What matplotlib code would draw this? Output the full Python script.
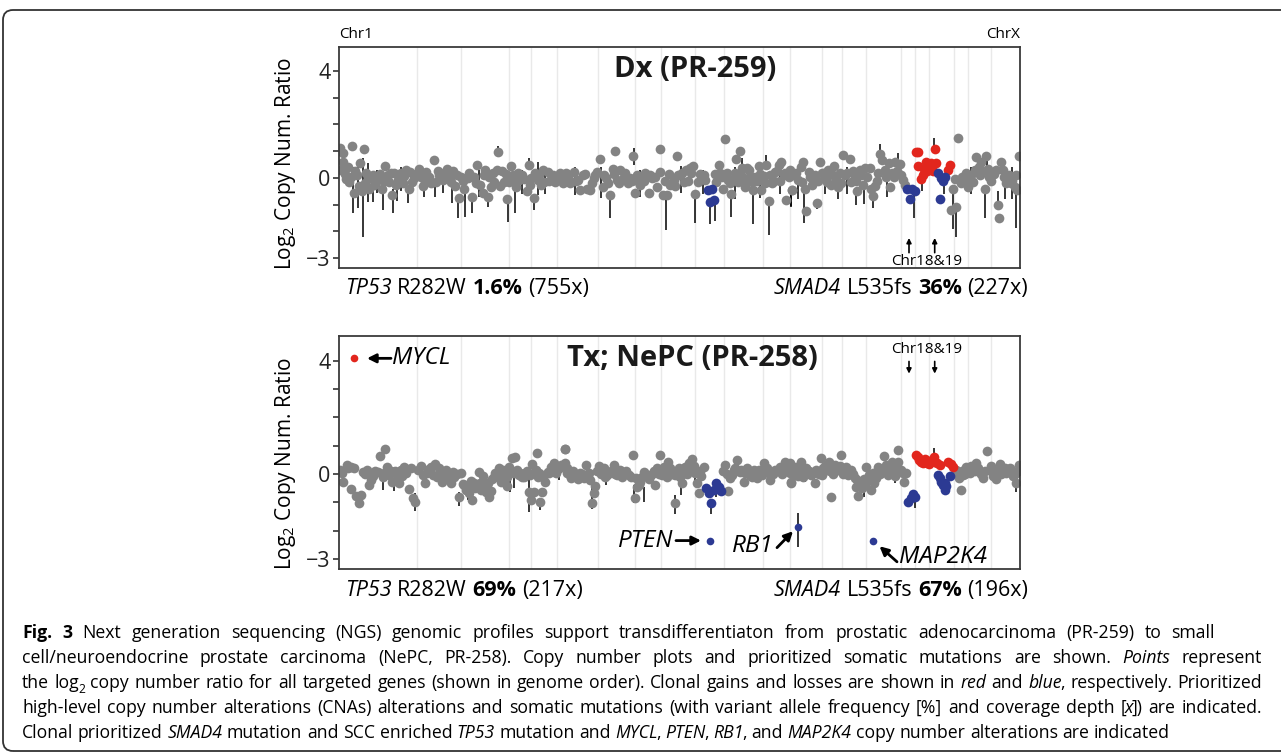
import matplotlib
matplotlib.use('Agg')
import matplotlib.pyplot as plt
from matplotlib.transforms import IdentityTransform
from matplotlib.patches import FancyBboxPatch

plt.rcParams['font.family'] = ['Open Sans', 'DejaVu Sans']
plt.rcParams['mathtext.fontset'] = 'custom'
plt.rcParams['mathtext.rm'] = 'Open Sans'
plt.rcParams['mathtext.it'] = 'Open Sans:italic'
plt.rcParams['mathtext.bf'] = 'Open Sans:bold'

# ---- data (x = genome order position, y = log2 copy number ratio) ----
# chromosome boundaries along the genome axis
chrom_bounds = [77.7, 122.3, 170.3, 192.3, 218.3, 258.7, 295.7, 322, 355.5, 385.3,
                423.5, 451, 483.3, 503, 527, 561.7, 576.3, 590.2, 614.5, 629, 651.5]

# Dx (PR-259): gray = neutral, red = gain, blue = loss
dx_gray = [
    (1, 1.1), (4.3, 0.92), (3.7, 0.58), (8.7, 0.42), (13, 1.2), (6.3, 0.15), (10.3, -0.17),
    (15.3, -0.58), (16.3, 0.26), (19.7, -0.3), (21.3, 0.54), (23, -0.48), (24.7, 1.08),
    (27, 0.17), (30.3, -0.4), (32, 0), (34.3, 0.1), (37, -0.14), (39.7, 0.05), (43, -0.43),
    (46.3, 0.45), (48.7, 0.1), (50.3, -0.14), (53, -0.64), (55.3, 0.17), (58.7, -0.08),
    (62, 0.2), (65.3, 0.07), (69.7, -0.43), (71, 0.23), (75.3, 0), (80.3, 0.32), (84.3, -0.3),
    (87, 0.23), (90.3, 0.05), (94.7, 0.67), (97, -0.14), (100.3, 0.1), (103.7, -0.08),
    (108, 0.33), (110.3, 0), (114.3, 0.26), (116.3, -0.3), (119.7, -0.77), (122, 0.05),
    (125.3, -0.4), (128.7, 0), (133, -0.73), (135.3, 0.05), (138, 0.48), (141, -0.27),
    (143.7, -0.58), (146, 0.3), (148.7, -0.7), (152, -0.35), (155.3, -0.14), (159.3, 0.96),
    (158, 0.3), (162.7, 0.27), (165.3, -0.14), (168, -0.8), (172, 0.45), (173.7, 0.1),
    (177, -0.33), (180.3, -0.08), (185.3, -0.05), (187.7, -0.48), (189.7, 0.48), (192, 0),
    (194.7, -0.77), (198.7, -0.08), (202, -0.27), (205.3, -0.14), (208.7, 0.23), (213.7, 0.1),
    (218.7, 0.05), (223.7, -0.2), (227, 0.17),
    (2, 0.3), (7, -0.05), (12, 0.05), (18, 0.1), (26, -0.2), (29, 0.05), (35, -0.25), (41, 0.15),
    (45, -0.1), (52, 0.2), (57, -0.25), (60, 0.05), (64, -0.2), (67, 0.3), (73, -0.15), (77, 0.15),
    (82, 0.05), (86, -0.1), (92, -0.2), (99, 0.25), (105, 0.2), (112, -0.15), (118, 0.1),
    (124, -0.1), (130, 0.2), (137, -0.2), (145, 0.1), (150, 0.05), (154, 0.2), (161, -0.3),
    (167, 0.15), (170, -0.15), (175, -0.1), (179, 0.2), (183, 0.1), (191, -0.25), (196, 0.2),
    (200, 0.1), (204, 0.3), (210, -0.1), (216, -0.15), (221, 0.2),
    (226.3, 0.1), (231.3, -0.18), (234.7, 0.23), (239, -0.08), (241.3, -0.45), (243.7, 0.1),
    (248, -0.4), (251.3, -0.45), (254.7, 0), (258, 0.23), (261.3, 0.7), (263.7, -0.33), (267, 0),
    (271.3, -0.64), (273.7, 0.33), (276.3, 1.02), (278, -0.08), (281.3, 0.3), (284.7, 0.05),
    (289, -0.2), (291.3, 0), (294.3, 0.83), (296.3, -0.58), (299.7, -0.14), (303, 0),
    (306.3, 0.2), (309.7, -0.58), (313, 0), (318, -0.33), (320.7, 1.08), (321.3, 0.23),
    (324, -0.64), (328, -0.64), (331.3, -0.27), (334.7, -0.08), (337.7, 0.8), (341.3, 0.1),
    (344.7, -0.14), (347, 0.3), (350.7, 0.36), (354, 0.46), (356.3, -0.62), (359, -0.14),
    (363, 0), (366.3, -0.08), (377, -0.14), (379.7, 0.5), (381.3, 0.17), (384, -0.4),
    (386.3, 1.45), (389, -0.08), (392.3, -0.62), (394.7, -0.05), (397.3, 0.7), (400.7, 1.0),
    (403, 0.36), (405.7, -0.33), (408, 0.36), (411.3, 0.07), (414, -0.45), (416.3, 0.05),
    (419.7, 0.46), (422.3, -0.45), (424.7, 0.07), (427.3, 0.48), (429.7, -0.87), (433, -0.2),
    (436.3, 0.23), (439.7, 0.48), (442.3, 0.58), (444.7, 0.1), (447.3, -0.83), (449.7, 0.05),
    (453, -0.45),
    (229, 0.05), (237, -0.1), (246, 0.15), (253, -0.2), (256, 0.1), (265, 0.1), (269, -0.2),
    (275, 0.15), (280, -0.2), (286, 0.2), (293, -0.1), (298, 0.1), (301, -0.25), (305, -0.1),
    (311, 0.1), (316, 0.05), (326, -0.1), (330, 0.15), (336, -0.3), (339, 0.1), (343, 0.2),
    (349, -0.1), (352, 0.2), (361, 0.15), (365, 0.1), (376, 0.15), (383, 0.05), (388, 0.2),
    (391, -0.2), (396, 0.2), (399, -0.15), (402, 0.1), (407, -0.1), (410, 0.3), (413, -0.15),
    (418, -0.1), (421, 0.15), (426, -0.2), (431, 0.1), (435, -0.1), (438, 0.25), (441, -0.1),
    (446, 0.2), (451, 0.2),
    (450.7, 0.3), (454, 0.1), (453, -0.45), (459, -0.08), (461.7, 0.42), (464, 0.6),
    (465.7, -0.43), (467.3, -1.23), (469.7, 0.23), (473, -0.27), (475.7, 0.1), (477.7, -0.93),
    (481, 0.6), (483, 0.17), (486.3, 0), (489, 0.3), (492.3, -0.27), (495, 0.45), (499, -0.33),
    (500.7, 0.17), (504, 0.86), (506.3, 0.1), (510.7, 0.7), (512.3, -0.14), (515.7, 0.05),
    (518.3, -0.48), (520.7, 0.3), (524, -0.27), (526.3, 0.36), (530.7, 0.36), (532.3, -0.4),
    (534, -0.68), (536.3, -0.3), (539, 0.17), (541.3, 0.9), (543, 0.67), (545.7, 0.3),
    (550, 0.55), (551, -0.35), (555, 0.02), (556.3, 0.6), (560.7, 0.52), (564, -0.08),
    (614, -0.43), (612.3, -1.2), (615.7, -0.04), (617.3, -1.08), (619, 1.48), (621.7, -0.2),
    (625.7, -0.08), (629, -0.35), (631.7, 0.1), (637.3, 0.77), (639.7, 0.42), (642.3, 0.6),
    (645.7, -0.43), (647.3, 0.83), (650, 0.05), (653, 0.17), (657.3, 0.3), (659, -1.02),
    (660.3, -1.52), (662.3, 0.6), (665, 0.05), (668.3, -0.08), (671.7, -0.2), (675.7, -0.35),
    (678.3, -0.45), (680, 0.83),
    (457, 0.2), (463, -0.15), (471, 0.05), (479, -0.1), (485, 0.2), (488, -0.15), (494, 0.1),
    (497, -0.05), (502, -0.2), (508, 0.2), (514, 0.25), (517, -0.1), (522, 0.1), (528, 0.05),
    (538, -0.1), (547, 0.05), (553, 0.2), (558, 0.25), (562, 0.1), (566, -0.25), (623, 0.05),
    (627, 0.2), (634, -0.15), (636, 0.3), (641, 0.1), (644, 0.25), (649, 0.35), (652, -0.1),
    (655, 0.15), (664, 0.3), (667, -0.2), (670, 0.1), (673, -0.1), (677, 0.1),
]
dx_red = [(576.7, 0.95), (579, 0.98), (579, 0.46), (582.3, -0.05), (584, 0.1), (586.7, 0.6),
          (588.3, 0.27), (590.7, 0.42), (592.3, 0.57), (595.7, 1.08), (597.3, 0.55),
          (585, 0.35), (594, 0.25), (609, 0.3), (610.7, 0.48)]
dx_blue = [(369, -0.45), (373, -0.4), (371.3, -0.9), (374.7, -0.83),
           (568.3, -0.43), (570.7, -0.8), (573, -0.43), (575.7, -0.48),
           (599, 0.17), (600.7, -0.8), (602.3, 0), (604, -0.12), (606.3, 0.05)]
# error bars (x, low, high)
dx_bars = [
    (14.3, -1.33, 0.42), (19, -1.14, 0.42), (23.7, -2.2, 0.73), (28.7, -0.9, 0.55),
    (33.7, -0.9, -0.2), (44.3, -1.2, -0.45), (53.7, -1.3, -0.4), (58, -0.85, -0.3),
    (68.7, -0.95, -0.43), (96, -0.7, -0.2), (113, -0.95, -0.3), (119.3, -1.52, -0.77),
    (126.3, -1.48, -0.4), (133, -1.33, -0.73), (148.7, -1.08, -0.7), (159.3, 0.96, 1.2),
    (168.7, -1.64, -0.8), (176.3, -1.33, -0.33), (194.7, -1.2, -0.77), (198.7, -0.64, 0.6),
    (189.7, 0.48, 0.75), (271.3, -1.52, -0.64), (294.7, 0.48, 1.1), (327.3, -1.95, -0.64),
    (355.7, -1.68, -0.62), (371.3, -1.73, -0.9), (375.7, -1.6, -0.83), (392.3, -1.48, -0.62),
    (414, -1.73, -0.45), (429.7, -2.14, -0.87), (452, -1.08, -0.45), (427.3, 0.48, 0.85),
    (403, 0.36, 0.75), (452.3, -1.05, -0.45), (459, -0.8, -0.08), (465, -1.7, -0.43),
    (477.7, -1.15, -0.93), (499, -0.8, -0.33), (517.3, -1.02, -0.48), (525, -0.98, -0.27),
    (534, -1.14, -0.68), (541.3, 0.9, 1.25), (559, 0.3, 0.92), (575, -1.52, -0.48),
    (583, -0.5, -0.05), (595, 1.08, 1.48), (605, -0.6, -0.12), (614, -1.9, -0.43),
    (617.3, -2.2, -1.08), (645.7, -1.52, -0.43), (659, -1.0, -0.5), (677.3, -1.89, -0.35),
    (673, -0.8, 0.4), (648, 0.2, 0.9),
    (38, -0.55, 0.3), (62, -0.5, 0.4), (85, -0.7, 0.2), (104, -0.55, 0.3), (140, -0.7, 0.3),
    (183, -0.6, 0.3), (206, -0.6, 0.35), (236, -0.65, 0.4), (262, -0.75, 0.4), (301, -0.7, 0.3),
    (342, -0.55, 0.45), (364, -0.6, 0.3), (396, -0.8, 0.4), (421, -0.75, 0.2), (441, -0.6, 0.5),
    (486, -0.6, 0.35), (508, -0.6, 0.4), (548, -0.7, 0.3), (632, -0.6, 0.4), (666, -0.8, 0.3),
]

# Tx; NePC (PR-258)
tx_gray = [
    (1, 0.14), (4.3, -0.27), (7.7, 0.32), (12, 0.26), (12, -0.54), (17, -0.77), (20.3, -1.03),
    (22, -0.74), (23.7, 0.09), (27.7, 0.14), (30.3, -0.38), (34.3, -0.07), (38.7, 0.09),
    (41.3, 0.64), (46.3, 0.9), (43.7, -0.09), (48, 0.26), (50.3, -0.03), (53, -0.27),
    (56.3, 0.12), (60.3, -0.33), (63, -0.07), (65.3, 0.26), (69.7, -0.54), (72, 0.2),
    (74.3, -0.86), (76.3, -0.97), (82, 0.29), (84.3, -0.03), (86.3, -0.33), (90.3, 0.17),
    (93.7, -0.03), (96.3, 0.36), (100.3, 0.2), (103, -0.27), (105.3, 0.09), (108.7, -0.15),
    (112, -0.33), (113.7, 0.09), (117.7, 0), (119.7, -0.82), (122, 0.03), (123.7, -0.35),
    (127, -0.56), (129.7, -0.66), (132, -0.23), (133, -0.92), (136.3, -0.5), (139.7, 0.09),
    (142, -0.56), (144.3, -0.07), (147, -0.62), (150.3, -0.82), (153, -0.18), (156.3, 0.05),
    (159.7, 0.2), (162, -0.27), (165.3, -0.03), (167.7, -0.42), (169.7, 0.24), (173, 0.56),
    (176.3, 0.59), (175.3, 0.03), (179.7, -0.03), (183, -0.09), (186.3, 0.05), (189.7, -0.62),
    (192, -0.92), (193, 0.36), (195.3, -0.62), (198, 0.73), (198.7, -0.11), (201.3, -0.97),
    (203, -0.62), (206.3, -0.27), (208.7, 0.09), (212, 0.26), (215.3, 0.4), (218.7, 0.17),
    (222, 0.32), (225.7, 0.88), (228, 0.05),
    (3, 0.05), (9, 0.2), (15, 0.2), (26, 0.0), (32, -0.2), (36, 0.1), (45, 0.05), (52, 0.1),
    (58, -0.05), (62, 0.15), (67, 0.05), (79, 0.15), (88, 0.05), (92, 0.25), (98, -0.1),
    (102, 0.0), (107, 0.15), (110, 0.05), (115, -0.1), (125, -0.4), (131, -0.45), (135, -0.3),
    (138, -0.4), (141, -0.3), (146, -0.4), (149, -0.3), (152, -0.6), (155, -0.1), (158, -0.05),
    (161, 0.1), (164, 0.15), (168, -0.1), (171, 0.05), (178, 0.15), (181, 0.05), (185, -0.1),
    (188, 0.1), (191, -0.05), (197, 0.15), (200, 0.05), (205, -0.05), (210, 0.05), (214, 0.2),
    (217, 0.05), (220, 0.2), (224, 0.3),
    (226.3, 0.88), (225.7, 0.38), (229, 0.09), (232.3, -0.15), (235.7, -0.03), (239, -0.18),
    (241.3, 0.05), (244.7, -0.15), (247, 0.32), (249.7, 0.03), (253, -1.01), (254.7, -0.68),
    (256.3, -0.42), (260.3, 0.29), (263, 0.12), (266.3, -0.11), (269.7, 0.03), (274.7, 0.32),
    (278, -0.03), (281.3, 0.14), (284.7, 0.03), (289.7, -0.03), (294.3, 0.68), (295.7, -0.86),
    (298, -0.44), (301.3, -0.27), (304.7, 0.09), (308, -0.07), (310.3, -0.18), (313.7, 0.05),
    (316.3, -0.38), (318, 0.2), (321, 0.66), (323, -0.03), (326.3, 0.09), (329, 0.44),
    (331.3, 0.2), (336.3, -1.01), (336.3, -0.03), (339.7, 0.2), (343, -0.3), (343.7, 0.17),
    (346.3, 0.26), (349.7, 0.38), (353, 0.52), (356.3, 0.03), (358, -0.3), (359.7, -0.68),
    (362.3, -0.07), (364.7, 0.26),
    (386.3, 0.32), (389, -0.59), (391.3, -0.15), (394.7, 0.14), (398, 0.5), (400.7, 0.09),
    (404.7, -0.27), (408, 0.2), (411.3, -0.03), (414.7, 0.14), (418, -0.15), (421.3, 0.03),
    (424.7, 0.4), (428, 0.2), (431.3, -0.21), (436.3, 0.14), (441.3, 0.26), (445.7, 0.44),
    (449, 0.2), (452.3, -0.3), (453, 0.05),
    (228, 0.2), (231, -0.05), (234, 0.1), (237, -0.1), (243, 0.0), (246, -0.05), (251, -0.2),
    (258, 0.1), (262, 0.0), (265, 0.2), (268, -0.05), (272, 0.1), (276, 0.0), (280, 0.05),
    (283, -0.1), (287, 0.1), (292, -0.1), (297, -0.15), (300, -0.4), (303, -0.1), (306, 0.0),
    (312, -0.05), (315, 0.1), (320, 0.0), (325, 0.25), (328, -0.1), (333, 0.0), (338, 0.05),
    (341, -0.1), (345, 0.05), (348, 0.0), (352, 0.2), (355, 0.3), (361, 0.1), (384, 0.1),
    (388, 0.0), (393, -0.05), (396, 0.2), (402, 0.15), (406, 0.05), (410, 0.1), (413, -0.1),
    (416, 0.05), (420, 0.15), (423, -0.05), (426, 0.1), (430, 0.05), (434, 0.0), (439, 0.1),
    (443, 0.0), (447, 0.1), (451, 0.05),
    (450.7, 0.38), (452.3, -0.27), (455.7, 0.14), (459, -0.07), (462.3, 0.44), (465, 0.09),
    (468.3, 0.03), (471.7, -0.03), (475.7, -0.33), (478.3, 0.03), (481.7, 0.56), (484, 0.2),
    (487.3, 0.14), (489.7, 0.44), (492.3, -0.82), (492.3, 0.26), (495.7, 0.32), (499, 0.14),
    (502.3, 0.68), (505.7, 0.14), (509, -0.03), (512.3, 0.14), (515.7, -0.15), (517.3, -0.44),
    (519, -0.77), (521.7, -0.33), (525, -0.18), (527.3, 0.26), (529.7, -0.03), (532.3, -0.56),
    (535, -0.33), (537.3, -0.15), (539, 0.26), (542.3, 0.17), (544.7, 0.64), (547.3, 0.32),
    (550.7, 0.2), (553, 0.44), (556.3, -0.07), (559, 0.85), (559, 0.44), (562.3, 0.14),
    (565, -0.27), (567.3, 0.03),
    (617.3, 0.14), (619.7, -0.15), (621.7, -0.56), (624, -0.03), (627.3, 0.26), (630.7, 0.03),
    (634, 0.17), (637.3, 0.38), (640.7, 0.09), (644, -0.15), (648.3, 0.82), (650.7, 0.14),
    (654, -0.07), (657.3, -0.18), (660.7, 0.36), (664, 0.14), (667.3, 0.03), (670.7, 0.2),
    (674, -0.07), (677.3, -0.3), (680, 0.32),
    (454, 0.0), (457, 0.25), (461, 0.1), (464, -0.1), (467, 0.2), (470, 0.1), (474, 0.05),
    (477, 0.15), (480, 0.0), (483, -0.05), (486, 0.3), (491, 0.1), (494, 0.0), (497, 0.2),
    (501, 0.3), (504, 0.0), (507, 0.25), (511, 0.05), (514, 0.0), (518, -0.2), (523, -0.5),
    (526, -0.4), (531, -0.2), (534, 0.05), (541, 0.0), (546, 0.1), (549, -0.05), (552, 0.3),
    (555, 0.1), (558, 0.2), (564, 0.05), (618, 0.0), (623, 0.1), (626, 0.0), (629, 0.2),
    (632, 0.3), (636, 0.1), (639, 0.2), (642, 0.0), (646, 0.1), (652, 0.3), (656, 0.05),
    (659, 0.15), (662, 0.0), (666, 0.2), (669, 0.1), (672, 0.15), (676, 0.0), (679, 0.1),
]
tx_red = [(577.3, 0.68), (580, 0.5), (582.3, 0.44), (585.7, 0.52), (588.3, 0.38), (591.7, 0.44),
          (595, 0.62), (596.3, 0.44), (600.7, 0.32), (609, 0.44), (612.3, 0.36), (614, 0.26),
          (579, 0.6), (584, 0.4), (587, 0.45), (590, 0.35), (593, 0.5), (598, 0.4)]
tx_blue = [(367, -0.5), (369.7, -0.68), (372.3, -1.03), (374.7, -0.56), (377, -0.33),
           (379.7, -0.44), (382.3, -0.59),
           (569, -0.97), (571.7, -0.86), (574, -0.7), (575.7, -0.8),
           (599, -0.03), (602.3, -0.27), (604, -0.38), (605.7, -0.56), (607.3, -0.42),
           (610.7, -0.07), (601, -0.15), (606, -0.3)]
tx_bars = [
    (21, -0.8, -0.65), (44.3, -0.58, -0.15), (55, -0.6, -0.2), (76.3, -1.29, -0.68),
    (119.7, -1.13, -0.62), (129, -0.92, -0.8), (162, -0.05, 0.2), (171, -0.62, -0.15),
    (174.7, -0.5, -0.09), (189.7, -1.33, -0.18), (201, -1.27, -0.97), (220, -0.2, 0.27),
    (253, -1.25, -0.15), (267, -0.38, -0.11), (295.3, -1.03, -0.38), (304.7, -1.0, -0.44),
    (336.3, -1.41, -0.74), (342.3, -0.74, -0.15), (356.3, -0.33, 0.38), (372.3, -1.42, -1.1),
    (377, -0.82, -0.58), (389.7, -0.68, -0.56), (453, -0.45, -0.2), (465.7, -0.27, -0.1),
    (492.3, -0.97, -0.82), (525, -0.82, -0.38), (532.3, -0.68, -0.56), (555.7, -0.33, -0.03),
    (569.7, -1.17, -0.97), (575.7, -1.21, -0.7), (595, 0.62, 0.91), (605.7, -0.74, -0.56),
    (677.3, -0.62, -0.3), (459, -2.59, -1.39),
]
# highlighted focal CNAs: (gene, x, y, call)
tx_focal = [('MYCL', 15.3, 4.09, 1), ('PTEN', 370.7, -2.35, -1),
            ('RB1', 459, -1.86, -1), ('MAP2K4', 534, -2.38, -1)]

dx_mut = ([('TP53', 'i'), (' R282W ', 'n'), ('1.6%', 'b'), (' (755x)', 'n')],
          [('SMAD4', 'i'), (' L535fs ', 'n'), ('36%', 'b'), (' (227x)', 'n')])
tx_mut = ([('TP53', 'i'), (' R282W ', 'n'), ('69%', 'b'), (' (217x)', 'n')],
          [('SMAD4', 'i'), (' L535fs ', 'n'), ('67%', 'b'), (' (196x)', 'n')])

caption = [
    [('Fig. 3', 'b'), (' Next generation sequencing (NGS) genomic profiles support transdifferentiaton '
                       'from prostatic adenocarcinoma (PR-259) to small', 'n')],
    [('cell/neuroendocrine prostate carcinoma (NePC, PR-258). Copy number plots and prioritized '
      'somatic mutations are shown. ', 'n'), ('Points', 'i'), (' represent', 'n')],
    [('the log', 'n'), ('2', 's'), (' copy number ratio for all targeted genes (shown in genome order). '
                                    'Clonal gains and losses are shown in ', 'n'), ('red', 'i'),
     (' and ', 'n'), ('blue', 'i'), (', respectively. Prioritized', 'n')],
    [('high-level copy number alterations (CNAs) alterations and somatic mutations (with variant '
      'allele frequency [%] and coverage depth [', 'n'), ('x', 'i'), (']) are indicated.', 'n')],
    [('Clonal prioritized ', 'n'), ('SMAD4', 'i'), (' mutation and SCC enriched ', 'n'), ('TP53', 'i'),
     (' mutation and ', 'n'), ('MYCL', 'i'), (', ', 'n'), ('PTEN', 'i'), (', ', 'n'), ('RB1', 'i'),
     (', and ', 'n'), ('MAP2K4', 'i'), (' copy number alterations are indicated', 'n')],
]
caption_right = [1215, 1262, 1262, 1262, None]

# ---- figure ----
W, H = 1281, 755
fig = plt.figure(figsize=(W / 100, H / 100), dpi=100)
renderer = fig.canvas.get_renderer()
ident = IdentityTransform()

GRAY, RED, BLUE = '#838383', '#e2261d', '#2c3a93'


def px_rect(l, t, r, b):
    return [l / W, 1 - b / H, (r - l) / W, (b - t) / H]


def split_runs(runs):
    pieces, gap = [], False
    for txt, st in runs:
        for k, p in enumerate(txt.split(' ')):
            if k > 0:
                gap = True
            if p:
                pieces.append((p, st, gap))
                gap = False
    return pieces


def rich(x, y, runs, size, ha='left', width=None, measure=False):
    # runs of (text, style) drawn word by word at pixel x, baseline y (from top)
    pieces = split_runs(runs)
    arts, widths = [], []
    for i, (p, st, g) in enumerate(pieces):
        kw = dict(fontsize=size * (0.68 if st == 's' else 1.0), va='baseline', transform=ident)
        if st == 'i':
            kw['style'] = 'italic'
        if st == 'b':
            kw['weight'] = 'bold'
        t = fig.text(0, 0, p, **kw)
        w = t.get_window_extent(renderer).width
        if i + 1 < len(pieces) and not pieces[i + 1][2]:
            w -= size * (0.12 if st in ('i', 's') else 0.08)
        arts.append(t)
        widths.append(w)
    ngap = sum(1 for _, _, g in pieces if g)
    space = size * 100 / 72 * 0.26
    natural = sum(widths) + ngap * space
    if measure:
        for t in arts:
            t.remove()
        return natural
    if width and ngap and natural < width:
        space = (width - sum(widths)) / ngap
    total = sum(widths) + ngap * space
    cur = x - total if ha == 'right' else x
    for (p, st, g), t, w in zip(pieces, arts, widths):
        if g:
            cur += space
        dy = -size * 100 / 72 * 0.28 if st == 's' else 0
        t.set_position((cur, H - y + dy))
        cur += w


def panel(ax, gray, red, blue, bars, ylim):
    for b in chrom_bounds:
        ax.axvline(b, color='#e9e9e9', lw=1, zorder=0)
    ax.vlines([b[0] for b in bars], [b[1] for b in bars], [b[2] for b in bars],
              color='black', lw=1.1, zorder=1)
    ax.plot([p[0] for p in gray], [p[1] for p in gray], 'o', color=GRAY, ms=7, mec='none', zorder=2)
    ax.plot([p[0] for p in red], [p[1] for p in red], 'o', color=RED, ms=7, mec='none', zorder=3)
    ax.plot([p[0] for p in blue], [p[1] for p in blue], 'o', color=BLUE, ms=7, mec='none', zorder=3)
    ax.set_xlim(0, 681)
    ax.set_ylim(*ylim)
    ax.set_xticks([])
    ax.set_yticks(range(-3, 5))
    ax.set_yticklabels(['\u22123', '', '', '0', '', '', '', '4'])
    ax.tick_params(axis='y', direction='out', length=4, width=1.2, labelsize=15.5, pad=2,
                   color='#333333', labelcolor='#222222')
    for s in ax.spines.values():
        s.set_color('#3a3a3a')
        s.set_linewidth(1.3)


ax1 = fig.add_axes(px_rect(339, 46.7, 1020, 268.3))
ax2 = fig.add_axes(px_rect(339, 335.7, 1020, 569.3))
panel(ax1, dx_gray, dx_red, dx_blue, dx_bars, (-3.385, 4.91))
panel(ax2, tx_gray, tx_red, tx_blue, tx_bars, (-3.365, 4.89))

ax1.text(356, 4.04, 'Dx (PR-259)', ha='center', va='center', fontsize=21, weight='bold', color='#1a1a1a')
ax2.text(353, 4.1, 'Tx; NePC (PR-258)', ha='center', va='center', fontsize=21, weight='bold', color='#1a1a1a')
ax1.text(0, 1.02, 'Chr1', transform=ax1.transAxes, ha='left', va='bottom', fontsize=11)
ax1.text(1, 1.02, 'ChrX', transform=ax1.transAxes, ha='right', va='bottom', fontsize=11)

arrow_kw = dict(arrowstyle='-|>', color='black', lw=1.2, mutation_scale=7, shrinkA=0, shrinkB=0)
for xa in (570, 595.7):
    ax1.annotate('', xy=(xa, -2.25), xytext=(xa, -2.8), arrowprops=arrow_kw)
    ax2.annotate('', xy=(xa, 3.55), xytext=(xa, 3.98), arrowprops=arrow_kw)
ax1.text(588, -3.12, 'Chr18&19', ha='center', va='center', fontsize=11)
ax2.text(588, 4.39, 'Chr18&19', ha='center', va='center', fontsize=11)

for gene, gx, gy, call in tx_focal:
    ax2.plot(gx, gy, 'o', color=RED if call > 0 else BLUE, ms=5.5, mec='none', zorder=3)

big_arrow = dict(arrowstyle='-|>', color='black', lw=2, mutation_scale=13, shrinkA=0, shrinkB=0)
ax2.annotate('', xy=(28, 4.09), xytext=(52, 4.09), arrowprops=big_arrow)
ax2.text(53, 4.09, 'MYCL', style='italic', fontsize=17.5, ha='left', va='center')
ax2.annotate('', xy=(362, -2.35), xytext=(337, -2.35), arrowprops=big_arrow)
ax2.text(334, -2.35, 'PTEN', style='italic', fontsize=17.5, ha='right', va='center')
ax2.annotate('', xy=(454, -2.02), xytext=(438, -2.6), arrowprops=big_arrow)
ax2.text(435, -2.55, 'RB1', style='italic', fontsize=17.5, ha='right', va='center')
ax2.annotate('', xy=(540.5, -2.55), xytext=(558, -3.1), arrowprops=big_arrow)
ax2.text(560, -2.93, 'MAP2K4', style='italic', fontsize=17.5, ha='left', va='center')

fig.text(285 / W, 1 - 163 / H, r'Log$_{\mathregular{2}}$ Copy Num. Ratio', rotation=90,
         ha='center', va='center', fontsize=15)
fig.text(285 / W, 1 - 463 / H, r'Log$_{\mathregular{2}}$ Copy Num. Ratio', rotation=90,
         ha='center', va='center', fontsize=15)

rich(345, 294, dx_mut[0], 15.5)
rich(1028, 294, dx_mut[1], 15.5, ha='right')
rich(345, 596, tx_mut[0], 15.5)
rich(1028, 596, tx_mut[1], 15.5, ha='right')

# caption: fit font so the full justified lines keep near-normal word spacing
base = 10.0
fit = min((r - 22) / rich(0, 0, line, base, measure=True)
          for line, r in zip(caption[1:4], caption_right[1:4]))
cap_size = base * fit * 0.985
for i, (line, right) in enumerate(zip(caption, caption_right)):
    rich(22, 638 + 25 * i, line, cap_size, width=(right - 22) if right else None)

frame = FancyBboxPatch((3, 4), 1400, 741, boxstyle='round,pad=0,rounding_size=10',
                       transform=ident, fill=False, ec='#333333', lw=1.3)
fig.add_artist(frame)

fig.savefig('out.png', dpi=100)
